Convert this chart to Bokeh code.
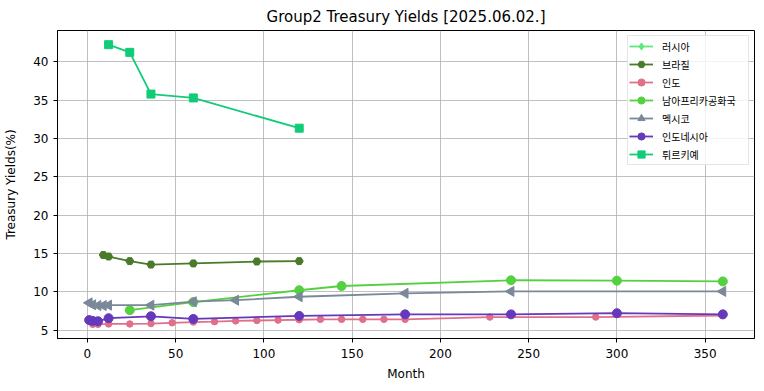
import numpy as np
from bokeh.plotting import figure
from bokeh.models import Range1d, FixedTicker, Legend, LegendItem, ColumnDataSource
from bokeh.embed import file_html
from bokeh.resources import INLINE

# ---- data ----
russia_x = []
russia_y = []
brazil_x = [9, 12, 24, 36, 60, 96, 120]
brazil_y = [14.8, 14.6, 14.0, 13.55, 13.7, 13.95, 14.0]
india_x = [3, 6, 12, 24, 36, 48, 60, 72, 84, 96, 108, 120, 132, 144, 156, 168, 180, 228, 288, 360]
india_y = [5.75, 5.75, 5.8, 5.8, 5.85, 5.95, 6.05, 6.1, 6.2, 6.25, 6.3, 6.35, 6.4, 6.4, 6.4, 6.4, 6.4, 6.7, 6.7, 6.9]
safrica_x = [24, 60, 120, 144, 240, 300, 360]
safrica_y = [7.6, 8.65, 10.2, 10.75, 11.5, 11.45, 11.35]
mexico_x = [1, 3, 6, 9, 12, 36, 60, 84, 120, 180, 240, 360]
mexico_y = [8.55, 8.3, 8.2, 8.2, 8.25, 8.25, 8.7, 8.9, 9.35, 9.8, 10.05, 10.05]
indonesia_x = [1, 3, 6, 12, 36, 60, 120, 180, 240, 300, 360]
indonesia_y = [6.3, 6.2, 6.15, 6.55, 6.8, 6.45, 6.85, 7.05, 7.05, 7.2, 7.05]
turkey_x = [12, 24, 36, 60, 120]
turkey_y = [42.25, 41.25, 35.8, 35.3, 31.35]

names = ["러시아", "브라질", "인도", "남아프리카공화국", "멕시코", "인도네시아", "튀르키예"]
colors = ["#5fe87d", "#4a7a2a", "#e0708a", "#55d040", "#7a8899", "#6638bb", "#11cc77"]
xs = [russia_x, brazil_x, india_x, safrica_x, mexico_x, indonesia_x, turkey_x]
ys = [russia_y, brazil_y, india_y, safrica_y, mexico_y, indonesia_y, turkey_y]
markers = ["diamond", "hex", "circle", "circle", "triangle", "circle", "square"]
msizes = [11, 8, 6.5, 9, 10, 9, 8]
angles = [0, 0, 0, 0, np.pi / 2, 0, 0]

x_ticks = [0, 50, 100, 150, 200, 250, 300, 350]
y_ticks = [5, 10, 15, 20, 25, 30, 35, 40]

FONT = "DejaVu Sans"

p = figure(frame_width=697, frame_height=308, output_backend="svg", toolbar_location=None,
           x_range=Range1d(-16.95, 377.95), y_range=Range1d(3.90, 44.1),
           min_border_left=57, min_border_right=2, min_border_top=30, min_border_bottom=45,
           title="Group2 Treasury Yields [2025.06.02.]")
p.title.align = "center"
p.title.text_font = FONT
p.title.text_font_size = "15px"
p.title.text_font_style = "normal"
p.title.text_color = "black"

p.outline_line_color = "black"
p.outline_line_width = 1
p.background_fill_color = "white"
p.border_fill_color = "white"

for ax, ticks in ((p.xaxis[0], x_ticks), (p.yaxis[0], y_ticks)):
    ax.ticker = FixedTicker(ticks=ticks)
    ax.major_label_text_font = FONT
    ax.major_label_text_font_size = "12px"
    ax.major_label_text_color = "black"
    ax.axis_label_text_font = FONT
    ax.axis_label_text_font_size = "12px"
    ax.axis_label_text_font_style = "normal"
    ax.axis_label_text_color = "black"
    ax.axis_line_color = "black"
    ax.major_tick_line_color = "black"
    ax.major_tick_in = 0
    ax.major_tick_out = 4
    ax.minor_tick_line_color = None
p.xaxis.axis_label = "Month"
p.yaxis.axis_label = "Treasury Yields(%)"
p.xaxis.major_label_standoff = 6
p.xaxis.axis_label_standoff = 6
p.yaxis.major_label_standoff = 5
p.yaxis.axis_label_standoff = 12

p.xgrid.ticker = FixedTicker(ticks=x_ticks)
p.ygrid.ticker = FixedTicker(ticks=y_ticks)
p.grid.grid_line_color = "#b0b0b0"
p.grid.grid_line_width = 0.8

items = []
for name, c, x, y, m, s, a in zip(names, colors, xs, ys, markers, msizes, angles):
    # a series with no data still needs a glyph in the legend
    src = ColumnDataSource(dict(x=x if x else [float("nan")], y=y if y else [float("nan")]))
    lr = p.line("x", "y", source=src, line_color=c, line_width=1.8)
    sr = p.scatter("x", "y", source=src, marker=m, size=s, angle=a,
                   fill_color=c, line_color=c)
    items.append(LegendItem(label=name, renderers=[lr, sr]))

legend = Legend(items=items, location="top_right")
legend.label_text_font = "Noto Sans CJK KR"
legend.label_text_font_size = "10px"
legend.label_text_color = "black"
legend.glyph_width = 24
legend.glyph_height = 18
legend.label_height = 18
legend.label_width = 85
legend.spacing = 0
legend.padding = 1
legend.margin = 5
legend.label_standoff = 9
legend.border_line_color = "#cccccc"
legend.border_line_width = 1
legend.background_fill_alpha = 0.8
p.add_layout(legend)

open("out.html", "w").write(file_html(p, INLINE))
